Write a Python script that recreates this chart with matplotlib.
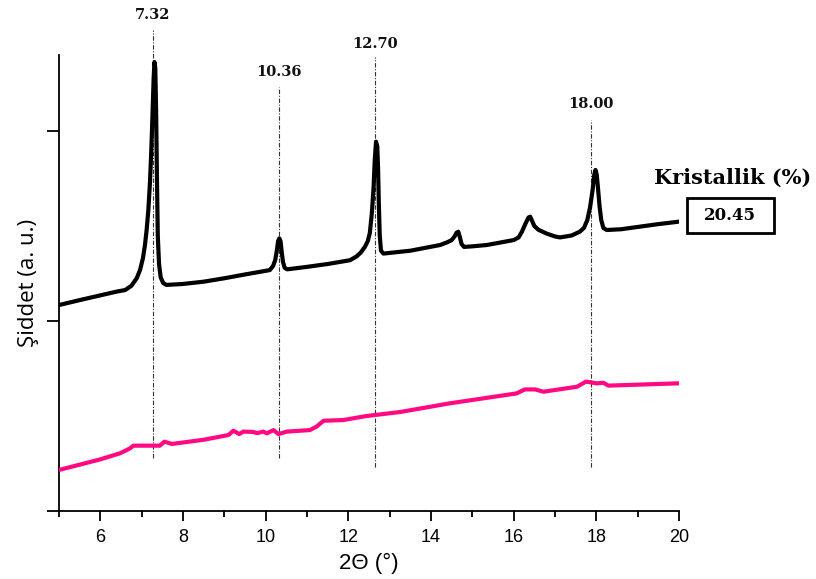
import matplotlib
matplotlib.use('Agg')
import matplotlib.pyplot as plt
from matplotlib.patches import Rectangle

# black pattern
black_x = [5.00, 5.50, 6.00, 6.40, 6.60, 6.75, 6.88, 6.96, 7.03, 7.08, 7.12, 7.16, 7.20, 7.23,
           7.26, 7.29, 7.31, 7.33, 7.35, 7.37, 7.39, 7.42, 7.46, 7.52, 7.60, 8.00, 8.50, 9.00,
           9.50, 10.10, 10.18, 10.23, 10.27, 10.30, 10.33, 10.36, 10.39, 10.42, 10.46, 10.52,
           11.00, 11.50, 12.04, 12.20, 12.30, 12.40, 12.47, 12.52, 12.57, 12.61, 12.64, 12.67,
           12.70, 12.72, 12.74, 12.76, 12.79, 12.85, 13.50, 14.22, 14.40, 14.50, 14.57, 14.62,
           14.66, 14.70, 14.74, 14.80, 15.00, 15.35, 16.00, 16.12, 16.20, 16.28, 16.36, 16.40,
           16.45, 16.50, 16.60, 16.80, 17.00, 17.12, 17.40, 17.60, 17.70, 17.78, 17.85, 17.91,
           17.95, 17.98, 18.01, 18.04, 18.08, 18.12, 18.17, 18.25, 18.60, 19.00, 19.50, 20.00]
black_y = [1.084, 1.110, 1.135, 1.155, 1.163, 1.185, 1.225, 1.268, 1.330, 1.400, 1.479, 1.580,
           1.726, 1.880, 2.070, 2.280, 2.363, 2.330, 2.100, 1.750, 1.450, 1.300, 1.230, 1.200,
           1.190, 1.195, 1.207, 1.225, 1.245, 1.268, 1.290, 1.320, 1.370, 1.420, 1.435, 1.420,
           1.360, 1.310, 1.280, 1.272, 1.285, 1.300, 1.320, 1.340, 1.360, 1.390, 1.420, 1.463,
           1.570, 1.700, 1.850, 1.944, 1.920, 1.800, 1.600, 1.450, 1.370, 1.355, 1.370, 1.400,
           1.415, 1.426, 1.445, 1.465, 1.470, 1.440, 1.405, 1.390, 1.393, 1.400, 1.426, 1.440,
           1.470, 1.510, 1.545, 1.549, 1.525, 1.500, 1.480, 1.460, 1.445, 1.440, 1.450, 1.470,
           1.490, 1.530, 1.600, 1.690, 1.770, 1.795, 1.770, 1.700, 1.600, 1.530, 1.490, 1.479,
           1.483, 1.495, 1.510, 1.523]

# pink pattern
pink_x = [5.00, 5.50, 6.00, 6.48, 6.72, 6.80, 7.44, 7.55, 7.73, 8.50, 9.10, 9.22, 9.36, 9.46,
          9.70, 9.80, 9.94, 10.03, 10.19, 10.31, 10.51, 11.07, 11.23, 11.40, 11.88, 12.44,
          13.25, 14.46, 16.07, 16.27, 16.52, 16.72, 17.53, 17.75, 18.01, 18.17, 18.29, 19.00,
          19.98]
pink_y = [0.216, 0.244, 0.272, 0.304, 0.330, 0.344, 0.344, 0.365, 0.353, 0.375, 0.400, 0.423,
          0.405, 0.418, 0.416, 0.410, 0.418, 0.409, 0.426, 0.405, 0.418, 0.426, 0.444, 0.475,
          0.479, 0.500, 0.521, 0.567, 0.619, 0.640, 0.640, 0.628, 0.654, 0.681, 0.672, 0.675,
          0.660, 0.665, 0.672]

# peak markers
peak_labels = ['7.32', '10.36', '12.70', '18.00']
peak_line_x = [7.27, 10.33, 12.64, 17.86]
peak_line_top = [2.53, 2.23, 2.39, 2.06]
peak_line_bottom = [0.28, 0.28, 0.23, 0.23]
peak_label_y = [2.61, 2.31, 2.46, 2.14]

kristallik = '20.45'

fig = plt.figure(figsize=(8.16, 5.79), dpi=100)
ax = fig.add_axes([0.0723, 0.1174, 0.7598, 0.7876])

for i in range(len(peak_labels)):
    ax.plot([peak_line_x[i], peak_line_x[i]], [peak_line_bottom[i], peak_line_top[i]],
            color='#333333', lw=0.8, linestyle=(0, (4, 1.5, 1, 1.5)), clip_on=False, zorder=1)
    ax.text(peak_line_x[i], peak_label_y[i], peak_labels[i], ha='center', va='center',
            fontsize=10.5, fontweight='bold', family='DejaVu Serif', color='#111111')

ax.plot(black_x, black_y, color='black', lw=3.0, solid_joinstyle='round',
        solid_capstyle='round', zorder=3)
ax.plot(pink_x, pink_y, color='#FF0A82', lw=3.0, solid_joinstyle='round', zorder=3)

ax.set_xlim(5, 20)
ax.set_ylim(0, 2.4)
ax.set_xticks([6, 8, 10, 12, 14, 16, 18, 20])
ax.set_xticks([5, 7, 9, 11, 13, 15, 17, 19], minor=True)
ax.set_yticks([0, 1, 2])
ax.set_yticklabels([])
ax.tick_params(axis='x', which='major', length=7, width=1.3, direction='out', labelsize=13, pad=6)
ax.tick_params(axis='x', which='minor', length=4, width=1.3, direction='out')
ax.tick_params(axis='y', which='major', length=9, width=1.3, direction='out')
for lab in ax.get_xticklabels():
    lab.set_family('Liberation Sans')

for s in ['top', 'right']:
    ax.spines[s].set_visible(False)
for s in ['left', 'bottom']:
    ax.spines[s].set_linewidth(1.3)

ax.set_xlabel('2Θ (°)', fontsize=16, family='Liberation Sans', labelpad=5)
ax.set_ylabel('Şiddet (a. u.)', fontsize=16, family='Open Sans', labelpad=2)

fig.text(733 / 816, 1 - 178 / 579, 'Kristallik (%)', ha='center', va='center',
         fontsize=15, fontweight='bold', family='DejaVu Serif')
fig.patches.append(Rectangle((687 / 816, 1 - 233 / 579), 87 / 816, 35 / 579,
                             transform=fig.transFigure, fill=False, ec='black', lw=2))
fig.text(730 / 816, 1 - 216 / 579, kristallik, ha='center', va='center',
         fontsize=12, fontweight='bold', family='DejaVu Serif')

fig.savefig('out.png', dpi=100)
